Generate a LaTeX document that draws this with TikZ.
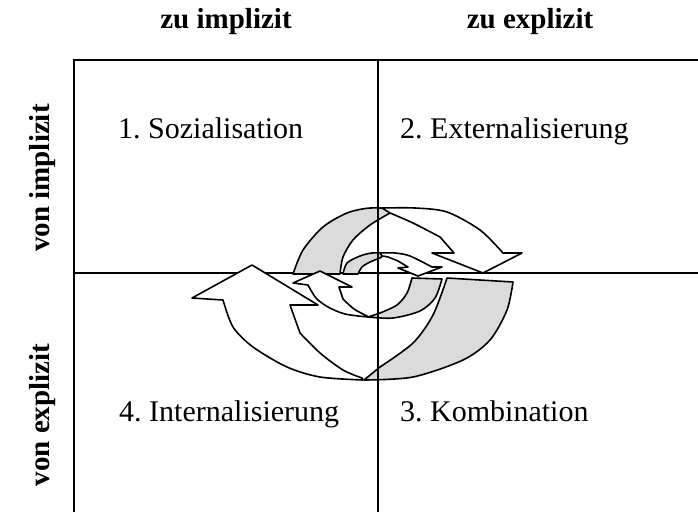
\documentclass[tikz,border=0pt]{standalone}
\usepackage{fontspec}
\setmainfont{Liberation Serif}
\frenchspacing
\begin{document}
\begin{tikzpicture}[x=1pt, y=-1pt,
    rahmen/.style={line width=1.3pt},
    band/.style={line width=1.6pt, fill=white, line join=round},
    rueckseite/.style={line width=1.6pt, fill=gray!28, line join=round},
    kopf/.style={font=\fontsize{29}{34}\selectfont\bfseries},
    feld/.style={font=\fontsize{30}{35}\selectfont, anchor=base west, inner sep=0pt}]
    \useasboundingbox (0,0) rectangle (698,512);

    % 1. Überschriften oben und links (links um 90 Grad gedreht)
    \node[kopf, anchor=base] (zuimpl) at (226,28) {zu implizit};
    \node[kopf, anchor=base] (zuexpl) at (530,28) {zu explizit};
    \node[kopf, anchor=base, rotate=90] (vonimpl) at (49,178) {von implizit};
    \node[kopf, anchor=base, rotate=90] (vonexpl) at (49,415) {von explizit};

    % 2. Rahmen und waagrechte Trennlinie (unter der Spirale)
    \draw[rahmen] (74,512) -- (74,60) -- (698,60);
    \draw[rahmen] (74,273) -- (698,273);

    % 3. Die vier Felder
    \node[feld] (sozial) at (118,138) {1. Sozialisation};
    \node[feld] (extern) at (400,138) {2. Externalisierung};
    \node[feld] (intern) at (119,421) {4. Internalisierung};
    \node[feld] (kombi)  at (400,421) {3. Kombination};

    % 4. Rückseiten der Spirale (grau)
    % großer Bogen oben links
    \draw[rueckseite] plot[smooth] coordinates {(293,274) (303,250) (323,227) (347,213) (370,208) (396,209)}
        -- plot[smooth] coordinates {(390,213) (370,225) (353,240) (343,257) (340,274)} -- cycle;
    % kleiner Bogen oben links
    \draw[rueckseite] plot[smooth] coordinates {(343,274) (347,263) (360,256) (372,253) (386,253)}
        -- plot[smooth] coordinates {(380,258) (370,262) (362,267) (358,274)} -- cycle;
    % großer Bogen unten rechts
    \draw[rueckseite] plot[smooth] coordinates {(513,282) (507,310) (490,340) (463,360) (413,377) (364,380)}
        -- plot[smooth] coordinates {(380,367) (413,343) (433,315) (447,278)} -- cycle;
    % kleiner Bogen unten rechts
    \draw[rueckseite] plot[smooth] coordinates {(442,279) (435,298) (420,311) (393,318) (368,317)}
        -- plot[smooth] coordinates {(380,313) (397,305) (407,293) (412,278)} -- cycle;

    % 5. Vorderseiten mit Pfeilspitzen (weiß)
    % großer Pfeil oben rechts
    \draw[band] plot[smooth] coordinates {(382,208) (415,208) (447,212) (480,230) (503,253)}
        -- (522,253) -- (483,273) -- (432,253) -- (454,253)
        -- plot[smooth] coordinates {(440,237) (413,223) (390,213)} -- cycle;
    % kleiner Pfeil oben rechts
    \draw[band] plot[smooth] coordinates {(380,253) (395,253) (410,256) (432,267)}
        -- (442,267) -- (418,276) -- (398,268) -- (408,267)
        -- plot[smooth] coordinates {(398,261) (388,257) (382,256)} -- cycle;
    % großer Pfeil unten links
    \draw[band] plot[smooth] coordinates {(363,380) (320,377) (287,367) (253,347) (233,327) (223,300)}
        -- (192,298) -- (252,265) -- (318,305) -- (290,305)
        -- plot[smooth] coordinates {(300,333) (320,353) (343,370) (362,378)} -- cycle;
    % kleiner Pfeil unten links
    \draw[band] plot[smooth] coordinates {(368,317) (345,314) (328,307) (316,298) (308,285)}
        -- (293,283) -- (320,271) -- (352,287) -- (339,287)
        -- plot[smooth] coordinates {(343,299) (354,309) (367,316)} -- cycle;

    % 6. senkrechte Trennlinie (über der Spirale)
    \draw[rahmen] (378,60) -- (378,512);
\end{tikzpicture}
\end{document}
